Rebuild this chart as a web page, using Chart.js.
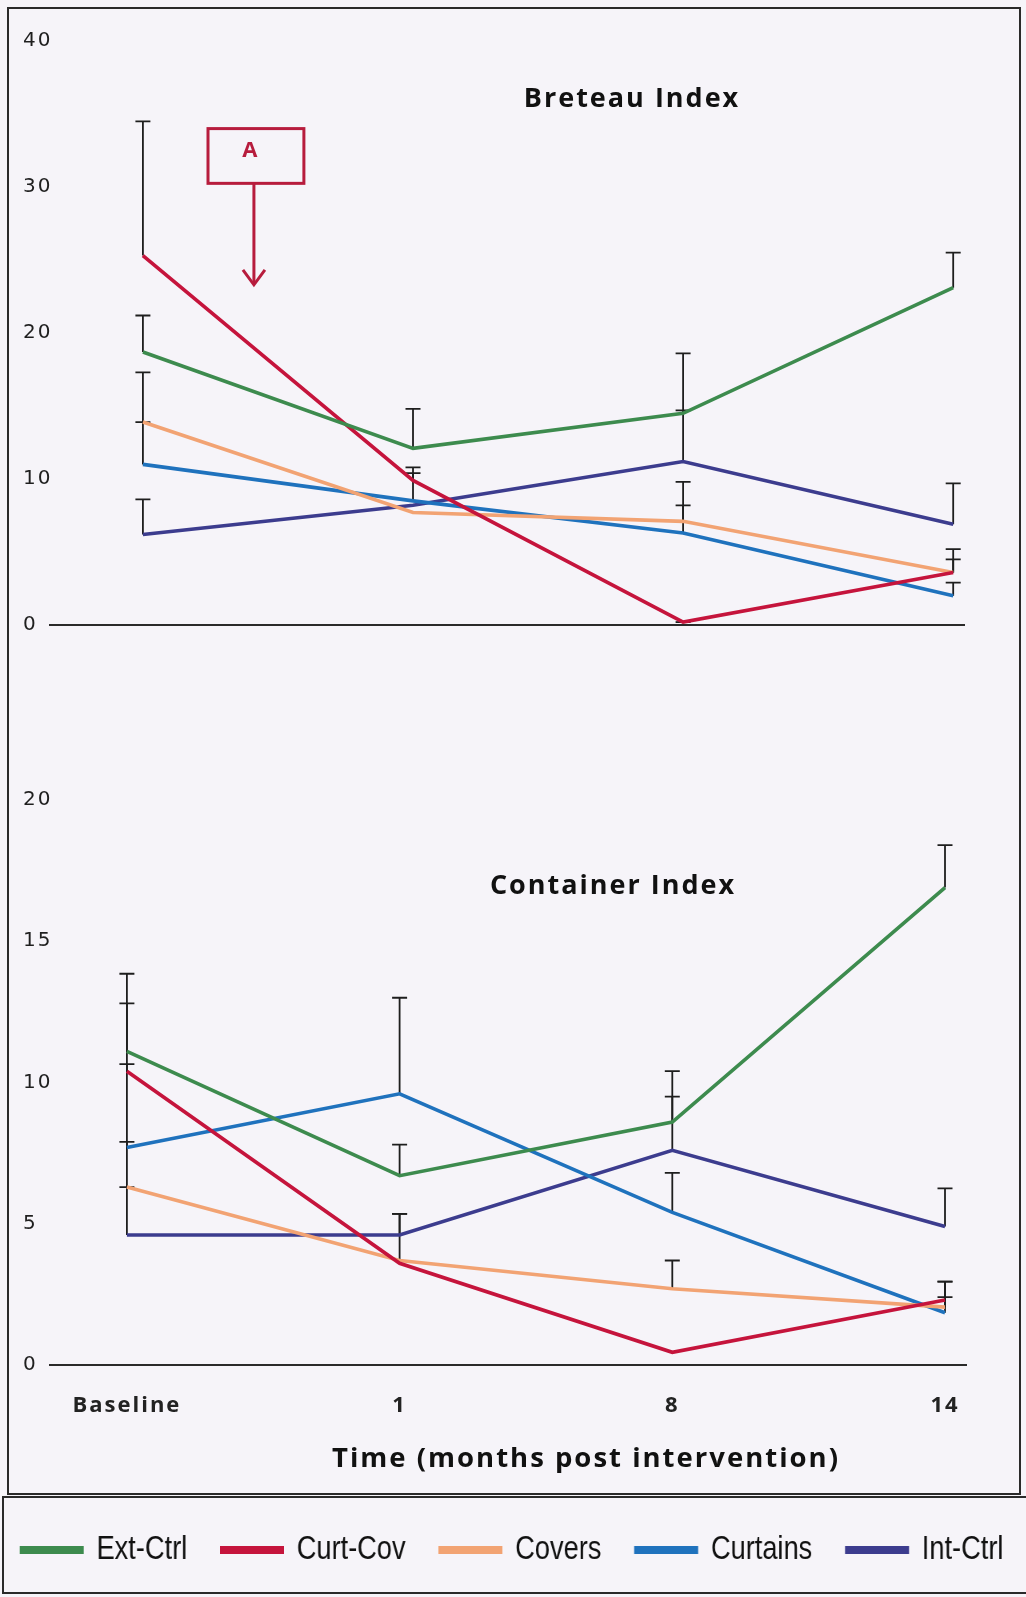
<!DOCTYPE html>
<html>
<head>
<meta charset="utf-8">
<script src="https://cdn.jsdelivr.net/npm/chart.js@4.4.1/dist/chart.umd.min.js"></script>
<style>
html,body{margin:0;padding:0;background:#f6f4f9;}
body{width:1026px;height:1597px;position:relative;overflow:hidden;}
.box{position:absolute;}
#frame{left:7px;top:7px;width:1014px;height:1488px;border:2px solid #2a2a2a;box-sizing:border-box;}
#legendFrame{left:2px;top:1496px;width:1030px;height:98px;border:2px solid #2a2a2a;box-sizing:border-box;}
#c1wrap{left:0;top:0;width:1026px;height:700px;}
#c2wrap{left:0;top:760px;width:1026px;height:737px;}
#c3wrap{left:-16px;top:1485px;width:1320px;height:180px;transform:scaleX(0.8);transform-origin:0 0;}
</style>
</head>
<body>
<div id="frame" class="box"></div>
<div id="legendFrame" class="box"></div>
<div id="c1wrap" class="box"><canvas id="c1"></canvas></div>
<div id="c2wrap" class="box"><canvas id="c2"></canvas></div>
<div id="c3wrap" class="box"><canvas id="c3"></canvas></div>
<script>
// ---------- data ----------
const categories = ['Baseline', '1', '8', '14'];
const seriesNames = ['Ext-Ctrl', 'Curt-Cov', 'Covers', 'Curtains', 'Int-Ctrl'];
const seriesColors = ['#3d8b4e', '#c5143c', '#f2a373', '#1f72bd', '#3c3c8e'];
const xAxisTitle = 'Time (months post intervention)';

// Breteau Index (means, upper error)
const breteauExtCtrl  = [18.7, 12.1, 14.5, 23.1];
const breteauCurtCov  = [25.3, 9.9, 0.2, 3.6];
const breteauCovers   = [13.9, 7.7, 7.1, 3.6];
const breteauCurtains = [11.0, 8.5, 6.3, 2.0];
const breteauIntCtrl  = [6.2, 8.2, 11.2, 6.9];
const breteauExtCtrlErr  = [2.5, 2.7, 4.1, 2.4];
const breteauCurtCovErr  = [9.2, 0.9, 0, 1.6];
const breteauCoversErr   = [3.4, null, 2.7, 0.9];
const breteauCurtainsErr = [2.9, 1.9, 1.9, 0.9];
const breteauIntCtrlErr  = [2.4, null, 3.5, 2.8];

// Container Index (means, upper error)
const containerExtCtrl  = [11.1, 6.7, 8.6, 16.9];
const containerCurtCov  = [10.4, 3.6, 0.45, 2.3];
const containerCovers   = [6.3, 3.7, 2.7, 2.05];
const containerCurtains = [7.7, 9.6, 5.4, 1.85];
const containerIntCtrl  = [4.6, 4.6, 7.6, 4.9];
const containerExtCtrlErr  = [2.75, 1.1, 1.8, 1.5];
const containerCurtCovErr  = [2.4, null, null, 0.65];
const containerCoversErr   = [1.6, 1.65, 1.0, 0.9];
const containerCurtainsErr = [2.95, 3.4, 1.4, 0.55];
const containerIntCtrlErr  = [1.7, 0.75, 1.9, 1.35];

const breteauTicks = [0, 10, 20, 30, 40];
const containerTicks = [0, 5, 10, 15, 20];

const breteauSeries = [breteauExtCtrl, breteauCurtCov, breteauCovers, breteauCurtains, breteauIntCtrl];
const breteauErrors = [breteauExtCtrlErr, breteauCurtCovErr, breteauCoversErr, breteauCurtainsErr, breteauIntCtrlErr];
const containerSeries = [containerExtCtrl, containerCurtCov, containerCovers, containerCurtains, containerIntCtrl];
const containerErrors = [containerExtCtrlErr, containerCurtCovErr, containerCoversErr, containerCurtainsErr, containerIntCtrlErr];

// ---------- plugins ----------
const trackingPlugin = {
  id: 'tracking',
  beforeDraw(chart, args, o) { if ('letterSpacing' in chart.ctx) chart.ctx.letterSpacing = (o && o.spacing) || '0px'; },
  beforeDatasetsDraw(chart) { if ('letterSpacing' in chart.ctx) chart.ctx.letterSpacing = '0px'; },
  afterDraw(chart) { if ('letterSpacing' in chart.ctx) chart.ctx.letterSpacing = '0px'; }
};

const errorBarPlugin = {
  id: 'errorBars',
  beforeDatasetsDraw(chart, args, o) {
    const ctx = chart.ctx, xs = chart.scales.x, ys = chart.scales.y;
    ctx.save();
    ctx.strokeStyle = o.color; ctx.lineWidth = o.width;
    chart.data.datasets.forEach(ds => {
      const errs = ds.errPlus;
      if (!errs) return;
      ds.data.forEach((pt, i) => {
        const e = errs[i];
        if (e === null || e === undefined) return;
        const x = xs.getPixelForValue(pt.x);
        const y0 = ys.getPixelForValue(pt.y);
        const y1 = ys.getPixelForValue(pt.y + e);
        ctx.beginPath();
        ctx.moveTo(x, y0); ctx.lineTo(x, y1);
        ctx.moveTo(x - o.cap / 2, y1); ctx.lineTo(x + o.cap / 2, y1);
        ctx.stroke();
      });
    });
    ctx.restore();
  }
};

const textLabelPlugin = {
  id: 'textLabels',
  afterDraw(chart, args, o) {
    if (!o || !o.items) return;
    const ctx = chart.ctx;
    o.items.forEach(it => {
      ctx.save();
      ctx.font = it.font; ctx.fillStyle = it.color;
      ctx.textAlign = 'left'; ctx.textBaseline = 'middle';
      if ('letterSpacing' in ctx) ctx.letterSpacing = it.letterSpacing || '0px';
      const w = ctx.measureText(it.text).width;
      ctx.fillText(it.text, it.x - w / 2, it.y);
      ctx.restore();
    });
  }
};

const noteArrowPlugin = {
  id: 'noteArrow',
  afterDraw(chart, args, o) {
    if (!o || !o.label) return;
    const ctx = chart.ctx, xs = chart.scales.x, ys = chart.scales.y;
    const bl = xs.getPixelForValue(o.boxLeft), br = xs.getPixelForValue(o.boxRight);
    const bt = ys.getPixelForValue(o.boxTop), bb = ys.getPixelForValue(o.boxBottom);
    const ax = xs.getPixelForValue(o.arrowX), tip = ys.getPixelForValue(o.arrowTip);
    ctx.save();
    ctx.strokeStyle = o.color; ctx.fillStyle = o.color; ctx.lineWidth = 3;
    ctx.strokeRect(bl, bt, br - bl, bb - bt);
    ctx.beginPath(); ctx.moveTo(ax, bb); ctx.lineTo(ax, tip - 1); ctx.stroke();
    ctx.beginPath(); ctx.moveTo(ax - 11, tip - 15); ctx.lineTo(ax, tip); ctx.lineTo(ax + 11, tip - 15); ctx.stroke();
    ctx.font = 'bold 22px "Open Sans", sans-serif';
    ctx.textAlign = 'center'; ctx.textBaseline = 'middle';
    ctx.fillText(o.label, xs.getPixelForValue(o.labelX), ys.getPixelForValue(o.labelY));
    ctx.restore();
  }
};

function makeDatasets(series, errors) {
  return series.map((vals, i) => ({
    label: seriesNames[i],
    data: vals.map((v, j) => ({ x: j, y: v })),
    errPlus: errors[i],
    borderColor: seriesColors[i],
    backgroundColor: seriesColors[i],
    borderWidth: 3.6,
    pointRadius: 0,
    tension: 0
  }));
}

const tickFont = { family: '"DejaVu Sans", sans-serif', size: 20 };
const axisColor = '#2a2a2a';
const headFont = 'bold 27px "Open Sans", sans-serif';

// ---------- Breteau chart ----------
new Chart(document.getElementById('c1'), {
  type: 'line',
  data: { datasets: makeDatasets(breteauSeries, breteauErrors) },
  options: {
    responsive: true, maintainAspectRatio: false, animation: false,
    layout: { padding: { left: 23, right: 62, top: 41, bottom: 75 } },
    plugins: {
      legend: { display: false }, tooltip: { enabled: false },
      tracking: { spacing: '2px' },
      errorBars: { color: '#1e1e1e', width: 1.8, cap: 15 },
      textLabels: { items: [
        { text: 'Breteau Index', x: 632, y: 99, font: headFont, color: '#111', letterSpacing: '2px' }
      ] },
      noteArrow: { label: 'A', color: '#b71c3d', boxLeft: 0.241, boxRight: 0.596, boxTop: 34.0, boxBottom: 30.25,
                   arrowX: 0.411, arrowTip: 23.3, labelX: 0.396, labelY: 32.5 }
    },
    scales: {
      x: {
        type: 'linear', min: -0.344, max: 3.04,
        grid: { display: false },
        border: { display: true, color: axisColor, width: 2 },
        ticks: { display: false },
        afterFit(s) { s.height = 0; s.paddingLeft = 0; s.paddingRight = 0; }
      },
      y: {
        min: breteauTicks[0], max: breteauTicks[breteauTicks.length - 1],
        afterBuildTicks(s) { s.ticks = breteauTicks.map(v => ({ value: v })); },
        grid: { display: false }, border: { display: false },
        ticks: { crossAlign: 'far', color: '#1f1f1f', font: tickFont },
        afterFit(s) { s.width = 27; s.paddingTop = 0; s.paddingBottom = 0; }
      }
    }
  },
  plugins: [trackingPlugin, errorBarPlugin, textLabelPlugin, noteArrowPlugin]
});

// ---------- Container chart ----------
new Chart(document.getElementById('c2'), {
  type: 'line',
  data: { datasets: makeDatasets(containerSeries, containerErrors) },
  options: {
    responsive: true, maintainAspectRatio: false, animation: false,
    layout: { padding: { left: 23, right: 60, top: 40, bottom: 12 } },
    plugins: {
      legend: { display: false }, tooltip: { enabled: false },
      tracking: { spacing: '2px' },
      errorBars: { color: '#1e1e1e', width: 1.8, cap: 15 },
      textLabels: { items: [
        { text: 'Container Index', x: 613, y: 126, font: headFont, color: '#111', letterSpacing: '2px' },
        { text: xAxisTitle, x: 586, y: 699, font: 'bold 27.5px "Open Sans", sans-serif', color: '#111', letterSpacing: '2px' }
      ] }
    },
    scales: {
      x: {
        type: 'linear', min: -0.282, max: 3.077,
        afterBuildTicks(s) { s.ticks = categories.map((c, i) => ({ value: i })); },
        grid: { display: false, drawTicks: false },
        border: { display: true, color: axisColor, width: 2 },
        ticks: {
          color: '#222', padding: 28, maxRotation: 0, autoSkip: false,
          font: { family: '"Open Sans", sans-serif', size: 22, weight: 'bold' },
          callback: (v) => categories[v]
        },
        afterFit(s) { s.height = 120; s.paddingLeft = 0; s.paddingRight = 0; }
      },
      y: {
        min: containerTicks[0], max: containerTicks[containerTicks.length - 1],
        afterBuildTicks(s) { s.ticks = containerTicks.map(v => ({ value: v })); },
        grid: { display: false }, border: { display: false },
        ticks: { crossAlign: 'far', color: '#1f1f1f', font: tickFont },
        afterFit(s) { s.width = 27; s.paddingTop = 0; s.paddingBottom = 0; }
      }
    }
  },
  plugins: [trackingPlugin, errorBarPlugin, textLabelPlugin]
});

// ---------- Legend (condensed horizontally like the original) ----------
new Chart(document.getElementById('c3'), {
  type: 'line',
  data: {
    datasets: seriesNames.map((n, i) => ({
      label: n, data: [], borderColor: seriesColors[i], backgroundColor: seriesColors[i], borderWidth: 2
    }))
  },
  options: {
    responsive: true, maintainAspectRatio: false, animation: false,
    layout: { padding: { top: 6, left: 0, right: 0, bottom: 0 } },
    scales: { x: { display: false }, y: { display: false } },
    plugins: {
      tooltip: { enabled: false },
      legend: {
        display: true, position: 'top', align: 'center',
        labels: {
          boxWidth: 78, boxHeight: 6, padding: 42, color: '#111',
          font: { family: '"Liberation Sans", Arial, sans-serif', size: 34 }
        }
      }
    }
  }
});
</script>
</body>
</html>
